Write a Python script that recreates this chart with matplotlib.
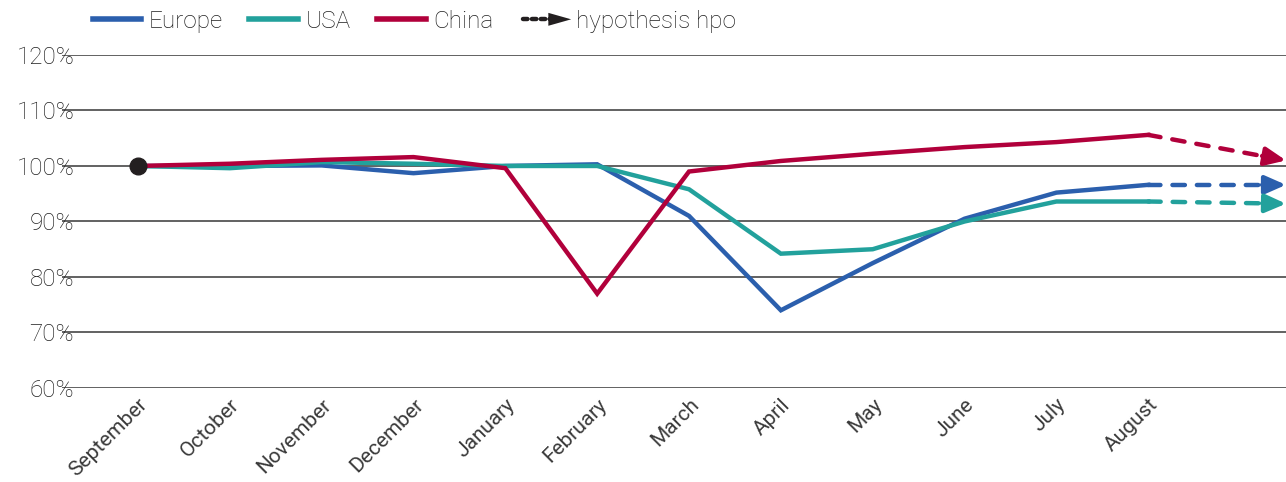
import matplotlib
matplotlib.use("Agg")
import matplotlib.pyplot as plt
from matplotlib.lines import Line2D
from matplotlib.patches import Polygon
from matplotlib.legend_handler import HandlerBase
from matplotlib.ticker import FuncFormatter

months = ["September", "October", "November", "December", "January", "February",
          "March", "April", "May", "June", "July", "August"]
europe = [100.0, 100.0, 100.1, 98.7, 100.0, 100.3, 91.0, 74.0, 82.5, 90.5, 95.2, 96.6]
usa = [100.0, 99.6, 100.7, 100.4, 100.0, 100.0, 95.8, 84.2, 85.0, 90.0, 93.6, 93.6]
china = [100.0, 100.4, 101.1, 101.6, 99.6, 77.0, 99.0, 100.9, 102.2, 103.4, 104.3, 105.6]
europe_hyp = 96.6
usa_hyp = 93.2
china_hyp = 101.0
yticks = [60, 70, 80, 90, 100, 110, 120]

C_EU = "#2B5FAD"
C_US = "#22A19C"
C_CN = "#B1003B"
TXT = "#1e1e1e"
DARK = "#231F20"

plt.rcParams["font.family"] = ["Roboto", "DejaVu Sans"]

fig = plt.figure(figsize=(12.86, 4.82), dpi=100)
ax = fig.add_axes([0.048, 0.195, 0.952, 0.691])

x = list(range(len(months)))
end_x = len(months) - 1 + 1.5
head = 0.26

for y in yticks:
    ax.axhline(y, color="#555555", lw=1.3, zorder=1)

for vals, hyp, c in [(europe, europe_hyp, C_EU), (usa, usa_hyp, C_US), (china, china_hyp, C_CN)]:
    ax.plot(x, vals, color=c, lw=3.2, solid_joinstyle="miter", zorder=3)
    x0, y0 = x[-1], vals[-1]
    frac = (end_x - head - x0) / (end_x - x0)
    xm, ym = x0 + frac * (end_x - x0), y0 + frac * (hyp - y0)
    ax.plot([x0, xm], [y0, ym], color=c, lw=3.2, dashes=(2.8, 2.7),
            dash_capstyle="round", zorder=3, clip_on=False)
    ax.annotate("", xy=(end_x, hyp), xytext=(xm, ym),
                arrowprops=dict(arrowstyle="-|>,head_length=1.25,head_width=0.55",
                                color=c, lw=3.2, shrinkA=0, shrinkB=0),
                zorder=3, annotation_clip=False)

ax.plot([0], [100], "o", color=DARK, ms=12, zorder=4)

ax.set_xlim(-0.83, end_x)
ax.set_ylim(60, 120)
ax.set_yticks(yticks)
ax.yaxis.set_major_formatter(FuncFormatter(lambda v, p: f"{v:.0f}%"))
ax.set_xticks(x)
ax.set_xticklabels(months, rotation=45, ha="right", rotation_mode="anchor",
                   fontsize=15, color="#3a3a3a", fontweight="normal")
for lab in ax.get_yticklabels():
    lab.set_fontsize(17.5)
    lab.set_color(TXT)
    lab.set_fontweight("light")
ax.tick_params(axis="x", length=0, pad=5)
ax.tick_params(axis="y", length=0, pad=-9)
for s in ax.spines.values():
    s.set_visible(False)


class ArrowHandler(HandlerBase):
    def create_artists(self, legend, orig_handle, xdescent, ydescent, width, height, fontsize, trans):
        yc = height / 2 - ydescent
        x0 = -xdescent
        ln = Line2D([x0 + 2, x0 + width * 0.62], [yc, yc], color=DARK, lw=3.2,
                    linestyle=(0, (1.0, 1.0)), dash_capstyle="round", transform=trans)
        hw = height * 0.38
        tri = Polygon([[x0 + width * 0.58, yc - hw], [x0 + width * 1.05, yc],
                       [x0 + width * 0.58, yc + hw]], closed=True, facecolor=DARK,
                      edgecolor="none", transform=trans)
        return [ln, tri]


handles = [Line2D([], [], color=C_EU, lw=4),
           Line2D([], [], color=C_US, lw=4),
           Line2D([], [], color=C_CN, lw=4),
           Line2D([], [], color=DARK)]
labels = ["Europe", "USA", "China", "hypothesis hpo"]
leg = fig.legend(handles, labels, loc="upper left", bbox_to_anchor=(0.055, 1.025), ncol=4,
                 frameon=False, fontsize=17.5, handlelength=2.0, handletextpad=0.3,
                 columnspacing=1.1, handler_map={handles[3]: ArrowHandler()})
for t in leg.get_texts():
    t.set_color(TXT)
    t.set_fontweight("light")

fig.savefig("out.png", dpi=100)
